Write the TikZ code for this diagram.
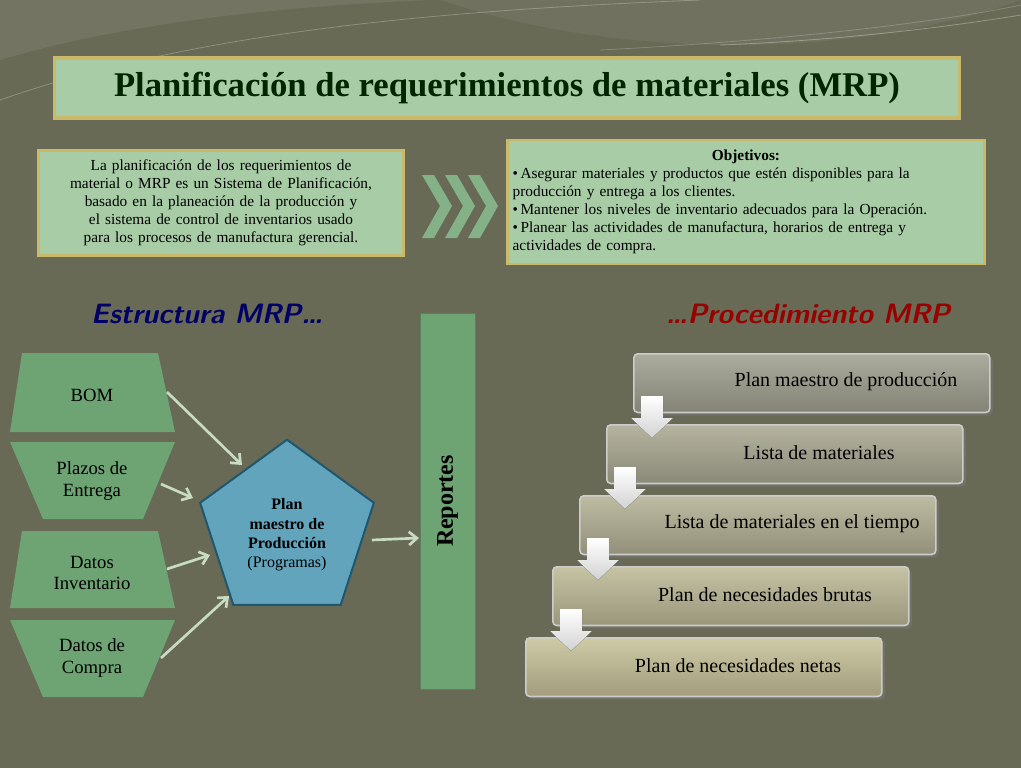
\documentclass[tikz,border=0pt]{standalone}
\usepackage{fontspec}
\setmainfont{Liberation Serif}
\usetikzlibrary{shapes.geometric,arrows.meta,shadows}
\hyphenpenalty=10000
\exhyphenpenalty=10000
\definecolor{bg}{HTML}{686A55}
\definecolor{lgreen}{HTML}{A8CCA6}
\definecolor{gold}{HTML}{C9B96A}
\definecolor{mgreen}{HTML}{6EA373}
\definecolor{pblue}{HTML}{62A4BC}
\definecolor{dblue}{HTML}{1F5770}
\definecolor{stepA}{HTML}{A3A393}
\definecolor{stepB}{HTML}{C9C49C}
\definecolor{arr}{HTML}{C8DCC4}
\tikzset{
 x=0.75pt,y=-0.75pt,
 topbox/.style={draw=gold,line width=2.2pt,fill=lgreen,inner sep=4pt,align=center,font=\fontsize{11.5}{13.5}\selectfont},
 trap/.style={fill=mgreen,draw=none},
 stepbox/.style={draw=gray!40!white,line width=1.2pt,rounded corners=3pt,minimum height=44pt,anchor=north west},
 lbl/.style={font=\fontsize{14}{16}\selectfont,align=center}
}
\begin{document}
\begin{tikzpicture}
\fill[bg] (0,0) rectangle (1021,768);
\useasboundingbox (0,0) rectangle (1021,768);
% decorative swooshes
\fill[white,opacity=0.08] (0,60) .. controls (200,0) and (500,-10) .. (780,0) -- (0,0) -- cycle;
\draw[white,opacity=0.25,line width=0.6pt] (0,100) .. controls (200,30) and (450,10) .. (700,0);
\draw[white,opacity=0.2,line width=0.6pt] (600,50) .. controls (800,40) and (950,20) .. (1021,5);
\draw[white,opacity=0.3,line width=0.6pt] (720,45) .. controls (850,40) and (960,25) .. (1021,15);
\fill[white,opacity=0.06] (440,0) .. controls (620,60) and (850,60) .. (1021,0) -- cycle;
% title
\node[draw=gold,line width=2.5pt,fill=lgreen,minimum width=679pt,minimum height=45pt] (title) at (507,88)
 {\fontsize{26}{28}\selectfont\bfseries\color{black!75!green!60!black}Planificación de requerimientos de materiales (MRP)};
% top boxes
\node[topbox,minimum width=274pt,minimum height=79pt,text width=262pt] (def) at (221,203)
 {La planificación de los requerimientos de material o MRP es un Sistema de Planificación, basado en la planeación de la producción y el sistema de control de inventarios usado para los procesos de manufactura gerencial.};
\node[topbox,minimum width=358pt,minimum height=93pt,text width=350pt,align=left] (obj) at (746,202)
 {\centerline{\bfseries Objetivos:}
 •\,Asegurar materiales y productos que estén disponibles para la producción y entrega a los clientes.\\
 •\,Mantener los niveles de inventario adecuados para la Operación.\\
 •\,Planear las actividades de manufactura, horarios de entrega y actividades de compra.};
% chevrons
\foreach \i in {0,1,2}{
 \pgfmathsetmacro{\cx}{422+23*\i}
 \fill[mgreen!85!white] (\cx,175) -- ({\cx+12},175) -- ({\cx+30},206) -- ({\cx+12},238) -- (\cx,238) -- ({\cx+18},206) -- cycle;
}
% headings
\node[font=\fontsize{21}{24}\selectfont\itshape\sffamily\bfseries,text=blue!40!black] (h1) at (207,314) {Estructura MRP…};
\node[font=\fontsize{21}{24}\selectfont\itshape\sffamily\bfseries,text=red!60!black] (h2) at (808,314) {…Procedimiento MRP};
% trapezoids
\fill[trap] (22,353) -- (158,353) -- (175,432) -- (10,432) -- cycle;
\fill[trap] (10,442) -- (175,442) -- (143,519) -- (43,519) -- cycle;
\fill[trap] (22,531) -- (158,531) -- (175,608) -- (10,608) -- cycle;
\fill[trap] (10,620) -- (175,620) -- (143,697) -- (43,697) -- cycle;
\node[lbl] (bom) at (92,395) {BOM};
\node[lbl] (plz) at (92,481) {Plazos de\\Entrega};
\node[lbl] (inv) at (92,573) {Datos\\Inventario};
\node[lbl] (com) at (92,658) {Datos de\\Compra};
% pentagon
\node[regular polygon,regular polygon sides=5,minimum size=137pt,fill=pblue,draw=dblue,line width=1.5pt,inner sep=0pt] (pm) at (287,531) {};
\node[align=center,font=\fontsize{12}{14.5}\selectfont] (pmt) at (287,535) {\bfseries Plan\\\bfseries maestro de\\\bfseries Producción\\(Programas)};
% reportes
\node[fill=mgreen,draw=mgreen!80!black,line width=0.5pt,minimum width=41pt,minimum height=282pt,inner sep=0pt] (rep) at (447.5,501.5) {};
\node[rotate=90,font=\fontsize{18}{20}\selectfont\bfseries] (rept) at (447.5,501) {Reportes};
% arrows
\coordinate (a1) at (167,392); \coordinate (b1) at (242,465);
\coordinate (a2) at (161,484); \coordinate (b2) at (193,498);
\coordinate (a3) at (167,569); \coordinate (b3) at (210,555);
\coordinate (a4) at (161,658); \coordinate (b4) at (229,596);
\coordinate (a5) at (372,540); \coordinate (b5) at (419,538);
\foreach \k in {1,...,5}{\draw[draw=arr,line width=2pt,-{Straight Barb[length=6pt,width=10pt]}] (a\k) -- (b\k);}
% steps
\foreach \i/\t in {0/Plan maestro de producción,1/Lista de materiales,2/Lista de materiales en el tiempo,3/Plan de necesidades brutas,4/Plan de necesidades netas}{
 \pgfmathsetmacro{\xx}{633-27*\i}
 \pgfmathsetmacro{\yy}{353+71*\i}
 \pgfmathsetmacro{\mix}{100-\i*25}
 \node[stepbox,top color=stepA!\mix!stepB!90!white,bottom color=stepA!\mix!stepB!80!black,minimum width=267pt,drop shadow={opacity=0.4}] (s\i) at (\xx,\yy) {};
 \node[font=\fontsize{15}{17}\selectfont] (st\i) at ({\xx+213},{\yy+29}) {\t};
}
\foreach \i in {0,1,2,3}{
 \pgfmathsetmacro{\ax}{652-27*\i}
 \pgfmathsetmacro{\ay}{396+71*\i}
 \fill[top color=white,bottom color=gray!35!white] ({\ax-11},\ay) -- ({\ax+11},\ay) -- ({\ax+11},{\ay+22}) -- ({\ax+21},{\ay+22}) -- (\ax,{\ay+42}) -- ({\ax-21},{\ay+22}) -- ({\ax-11},{\ay+22}) -- cycle;
}
\end{tikzpicture}
\end{document}
